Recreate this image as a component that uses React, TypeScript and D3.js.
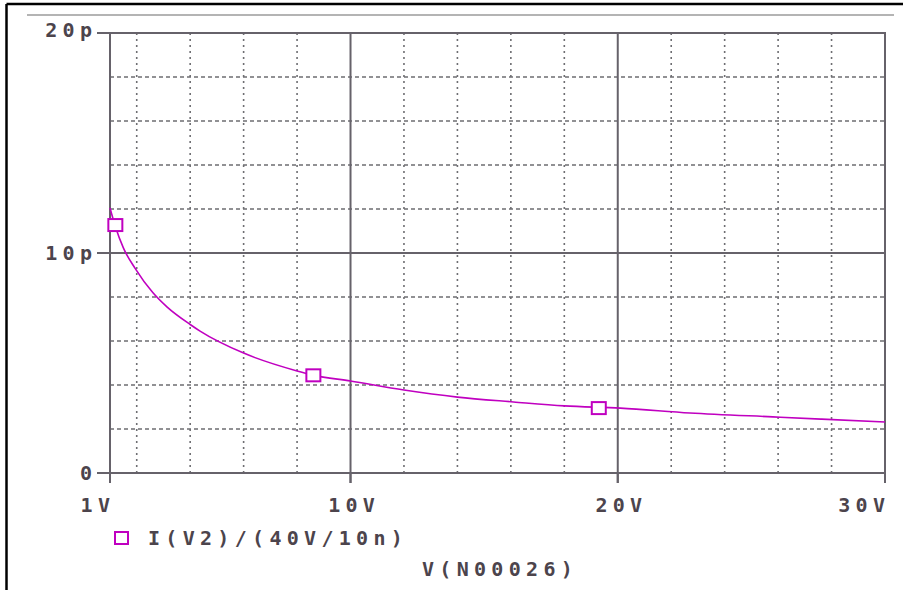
import React from "react";
import * as d3 from "d3";

// Data (V in volts, C in pF)
const voltages = [1, 1.2, 1.5, 1.94, 2.6, 3.13, 4, 4.37, 6, 8, 8.6, 10, 12, 14, 16.1, 18, 20.1, 22.7, 25.8, 27.6, 30];
const values = [12.05, 11.2, 10.23, 9.3, 8.2, 7.55, 6.75, 6.45, 5.45, 4.64, 4.45, 4.18, 3.77, 3.45, 3.23, 3.05, 2.95, 2.73, 2.55, 2.45, 2.32];
const markerV = [1.2, 8.61, 19.29];
const markerC = [11.27, 4.44, 2.95];
const yTickValues = [0, 10, 20];
const yTickLabels = ["0", "10p", "20p"];
const xTickValues = [1, 10, 20, 30];
const xTickLabels = ["1V", "10V", "20V", "30V"];
const yGrid = [2, 4, 6, 8, 12, 14, 16, 18];
const xGrid = [2, 4, 6, 8, 12, 14, 16, 18, 22, 24, 26, 28];
const legendLabel = "I(V2)/(40V/10n)";
const xAxisTitle = "V(N00026)";

const W = 903;
const H = 590;
const PL = 110, PR = 885, PT = 33, PB = 473;
const AXIS = "#66626a";
const GRID = "#6e6e72";
const TEXT = "#4c444c";
const MAG = "#c000c0";
const FS = 20;
const LS = 5.3;

export default function App() {
  const x = d3.scaleLinear().domain([1, 30]).range([PL, PR]);
  const y = d3.scaleLinear().domain([0, 20]).range([PB, PT]);
  const pts = voltages.map((v, i) => [v, values[i]] as [number, number]);
  const line = d3
    .line<[number, number]>()
    .x((d) => x(d[0]))
    .y((d) => y(d[1]))
    .curve(d3.curveMonotoneX);

  const textStyle: React.CSSProperties = {
    fontFamily: "'DejaVu Sans Mono', monospace",
    fontWeight: "bold",
    fontSize: FS,
    letterSpacing: LS,
  };

  return (
    <div style={{ position: "fixed", left: 0, top: 0, width: W, height: H, background: "#fff" }}>
      <svg width={W} height={H} style={{ display: "block" }}>
        <rect x={0} y={0} width={W} height={H} fill="#fff" />
        {/* outer black frame */}
        <line x1={6.5} y1={4} x2={W} y2={4} stroke="#000" strokeWidth={2.5} />
        <line x1={6.5} y1={4} x2={6.5} y2={H} stroke="#000" strokeWidth={2.5} />
        {/* light gray top rule */}
        <line x1={27} y1={15} x2={894} y2={15} stroke="#b4b4b4" strokeWidth={2} />

        {/* grid */}
        {yGrid.map((v) => (
          <line key={"yg" + v} x1={PL} x2={PR} y1={y(v)} y2={y(v)} stroke={GRID} strokeWidth={1.6} strokeDasharray="4,3" />
        ))}
        {xGrid.map((v) => (
          <line key={"xg" + v} x1={x(v)} x2={x(v)} y1={PT} y2={PB} stroke={GRID} strokeWidth={1.6} strokeDasharray="2,4" />
        ))}
        {/* solid major grid */}
        <line x1={PL - 13} x2={PR} y1={y(10)} y2={y(10)} stroke={AXIS} strokeWidth={2} />
        {[10, 20].map((v) => (
          <line key={"mx" + v} x1={x(v)} x2={x(v)} y1={PT} y2={PB + 10} stroke={AXIS} strokeWidth={2} />
        ))}
        {/* frame */}
        <rect x={PL} y={PT} width={PR - PL} height={PB - PT} fill="none" stroke={AXIS} strokeWidth={2} />
        {/* ticks */}
        {yTickValues.map((v) => (
          <line key={"yt" + v} x1={PL - 13} x2={PL} y1={y(v)} y2={y(v)} stroke={AXIS} strokeWidth={2} />
        ))}
        {xTickValues.map((v) => (
          <line key={"xt" + v} x1={x(v)} x2={x(v)} y1={PB} y2={PB + 10} stroke={AXIS} strokeWidth={2} />
        ))}

        {/* y tick labels */}
        {yTickValues.map((v, i) => (
          <text key={"yl" + v} x={92 + LS} y={y(v) + (i === 2 ? 4 : 7)} textAnchor="end" fill={TEXT} style={textStyle}>
            {yTickLabels[i]}
          </text>
        ))}
        {/* x tick labels */}
        {xTickValues.map((v, i) => {
          const first = i === 0;
          const last = i === xTickValues.length - 1;
          const anchor = first || last ? "end" : "middle";
          const xx = first || last ? x(v) + LS : x(v) + LS / 2 + 1;
          return (
            <text key={"xl" + v} x={xx} y={512} textAnchor={anchor} fill={TEXT} style={textStyle}>
              {xTickLabels[i]}
            </text>
          );
        })}

        {/* curve */}
        <path d={line(pts) || ""} fill="none" stroke={MAG} strokeWidth={1.6} />
        {markerV.map((v, i) => (
          <rect key={"m" + i} x={x(v) - 7} y={y(markerC[i]) - 6} width={14} height={12} fill="#fff" stroke={MAG} strokeWidth={2} />
        ))}

        {/* legend */}
        <rect x={115} y={532} width={13} height={12} fill="#fff" stroke={MAG} strokeWidth={2} />
        <text x={148} y={545} fill={TEXT} style={textStyle}>{legendLabel}</text>
        <text x={422} y={576} fill={TEXT} style={textStyle}>{xAxisTitle}</text>
      </svg>
    </div>
  );
}
